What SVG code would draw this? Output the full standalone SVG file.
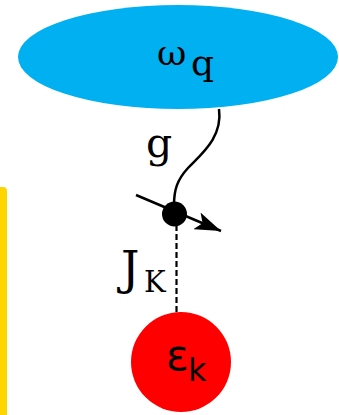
<svg xmlns="http://www.w3.org/2000/svg" width="339" height="415" viewBox="0 0 339 415">
<style>
.serif{font-family:"DejaVu Serif","Liberation Serif",serif;fill:#000}
.sans{font-family:"DejaVu Sans","Liberation Sans",sans-serif;fill:#000}
.line{stroke:#000;stroke-width:2.5;fill:none}
</style>
<defs>
<marker id="arrowBig" viewBox="0 0 26 18" refX="26" refY="9" markerWidth="26" markerHeight="18" markerUnits="userSpaceOnUse" orient="auto">
<path d="M0,0 L26,9 L0,18 L6,9 Z" fill="#000"/>
</marker>
</defs>
<rect x="-6" y="187" width="13" height="240" rx="4" fill="#FFD500"/>
<g id="qubit">
<ellipse cx="178" cy="57" rx="160" ry="52" fill="#00B0F0"/>
<text class="serif" x="157" y="65" font-size="36">ω</text>
<text class="serif" x="191" y="75" font-size="36">q</text>
</g>
<g id="connectors">
<path class="line" d="M219,109 C223,138 200,155 188,168 C177,180 174,190 174,205"/>
<line class="line" x1="136" y1="195" x2="221" y2="231" marker-end="url(#arrowBig)"/>
<line x1="176.5" y1="225" x2="176.5" y2="313" stroke="#000" stroke-width="2.2" stroke-dasharray="6,3"/>
</g>
<g id="spin">
<circle cx="174.5" cy="214" r="12.5" fill="#000"/>
</g>
<g id="labels">
<text class="serif" x="146" y="157" font-size="41">g</text>
<text class="serif" x="121" y="284" font-size="46">J</text>
<text class="serif" x="144" y="292" font-size="29">K</text>
</g>
<g id="bath">
<circle cx="181" cy="362" r="50" fill="#FF0000"/>
<text class="sans" x="166" y="370" font-size="42">ε</text>
<text class="sans" x="188" y="381" font-size="32">k</text>
</g>
</svg>
